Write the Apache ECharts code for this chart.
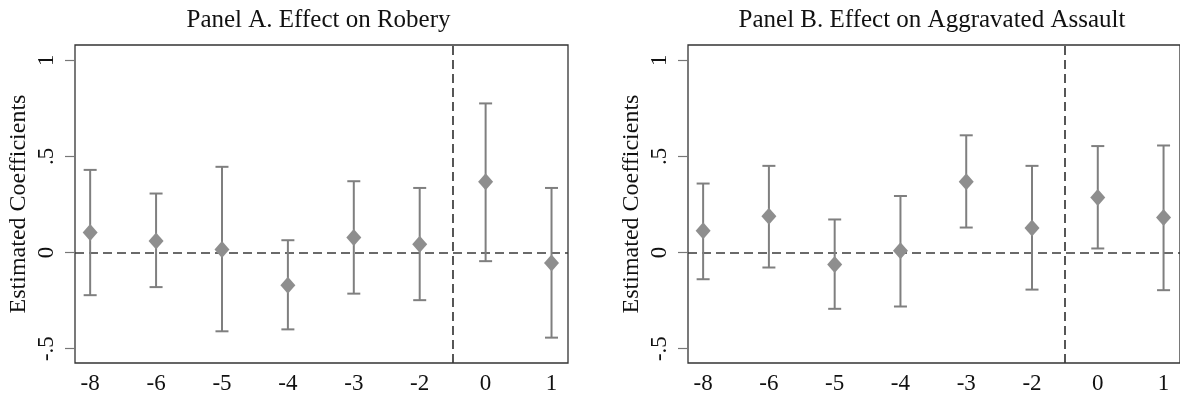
<!DOCTYPE html>
<html>
<head>
<meta charset="utf-8">
<title>Event-study coefficients</title>
<script src="https://cdn.jsdelivr.net/npm/echarts@6/dist/echarts.min.js"></script>
<style>
  html, body { margin: 0; padding: 0; background: #fff; }
  #chart { width: 1180px; height: 401px; }
</style>
</head>
<body>
<div id="chart"></div>
<script>
// Event-time periods (relative to treatment) shown on the horizontal axis
const periods = ['-8', '-6', '-5', '-4', '-3', '-2', '0', '1'];

// Panel A: robbery — point estimates and 95% confidence bounds
const robberyCoef = [0.104, 0.060, 0.016, -0.170, 0.078, 0.043, 0.368, -0.054];
const robberyLow  = [-0.222, -0.180, -0.410, -0.400, -0.214, -0.248, -0.045, -0.443];
const robberyHigh = [0.430, 0.307, 0.446, 0.064, 0.371, 0.336, 0.776, 0.336];

// Panel B: aggravated assault — point estimates and 95% confidence bounds
const assaultCoef = [0.113, 0.189, -0.062, 0.009, 0.368, 0.128, 0.286, 0.182];
const assaultLow  = [-0.139, -0.078, -0.293, -0.281, 0.130, -0.193, 0.021, -0.196];
const assaultHigh = [0.359, 0.451, 0.172, 0.294, 0.610, 0.451, 0.554, 0.557];

// Y-axis tick values and their printed labels
const yTickValues = [-0.5, 0, 0.5, 1];
const yTickLabels = ['-.5', '0', '.5', '1'];

const panelTitles = ['Panel A. Effect on Robery', 'Panel B. Effect on Aggravated Assault'];
const yAxisTitle = 'Estimated Coefficients';
const treatmentBreak = 6.5; // between period -2 and period 0

const FONT = '"Liberation Serif", "DejaVu Serif", serif';
const BAR_COLOR = '#7f7f7f';
const MARK_COLOR = '#8e8e8e';
const REF_COLOR = '#3a3a3a';

const positions = periods.map((_, i) => i + 1);

function errorBarItem(params, api) {
  const x = api.value(0);
  const top = api.coord([x, api.value(2)]);
  const bot = api.coord([x, api.value(1)]);
  const half = 6.5;
  const style = { stroke: BAR_COLOR, lineWidth: 2 };
  return {
    type: 'group',
    children: [
      { type: 'line', shape: { x1: top[0], y1: top[1], x2: bot[0], y2: bot[1] }, style },
      { type: 'line', shape: { x1: top[0] - half, y1: top[1], x2: top[0] + half, y2: top[1] }, style },
      { type: 'line', shape: { x1: bot[0] - half, y1: bot[1], x2: bot[0] + half, y2: bot[1] }, style }
    ]
  };
}

const grids = [
  { left: 75, top: 45, width: 493, height: 318 },
  { left: 688, top: 45, width: 494, height: 318 }
];

function makeX(i) {
  return {
    type: 'value', gridIndex: i, min: 0.77, max: 8.25,
    axisLine: { show: false }, axisTick: { show: false }, splitLine: { show: false },
    axisLabel: {
      customValues: positions, margin: 9,
      fontFamily: FONT, fontSize: 23, color: '#111',
      formatter: v => periods[Math.round(v) - 1]
    }
  };
}

function makeY(i) {
  return {
    type: 'value', gridIndex: i, min: -0.575, max: 1.08,
    name: yAxisTitle, nameLocation: 'middle', nameRotate: 90, nameGap: 44,
    nameTextStyle: { fontFamily: FONT, fontSize: 24, color: '#111' },
    axisLine: { show: false }, splitLine: { show: false },
    axisTick: { show: true, customValues: yTickValues, length: 10, inside: false,
                lineStyle: { color: '#777', width: 1.2 } },
    axisLabel: {
      customValues: yTickValues, rotate: 90, margin: 17,
      fontFamily: FONT, fontSize: 23, color: '#111',
      formatter: v => yTickLabels[yTickValues.indexOf(v)]
    }
  };
}

function panelSeries(i, coef, low, high) {
  return [
    {
      type: 'custom', xAxisIndex: i, yAxisIndex: i, z: 3,
      renderItem: errorBarItem, encode: { x: 0, y: [1, 2] },
      data: positions.map((p, k) => [p, low[k], high[k]]),
      silent: true
    },
    {
      type: 'scatter', xAxisIndex: i, yAxisIndex: i, z: 4,
      symbol: 'diamond', symbolSize: [15, 17],
      itemStyle: { color: MARK_COLOR, opacity: 1 },
      data: positions.map((p, k) => [p, coef[k]]),
      markLine: {
        silent: true, symbol: 'none', z: 2,
        label: { show: false },
        lineStyle: { color: REF_COLOR, type: [9, 5], width: 1.7 },
        data: [{ yAxis: 0 }, { xAxis: treatmentBreak }]
      }
    }
  ];
}

const chart = echarts.init(document.getElementById('chart'));
chart.setOption({
  backgroundColor: '#fff',
  animation: false,
  grid: grids.map(g => Object.assign({ show: true, borderColor: '#333', borderWidth: 1.3, backgroundColor: 'transparent' }, g)),
  xAxis: [makeX(0), makeX(1)],
  yAxis: [makeY(0), makeY(1)],
  graphic: panelTitles.map((t, i) => ({
    type: 'text',
    x: grids[i].left + grids[i].width / 2 - 3,
    y: 20,
    style: { text: t, font: '25px ' + FONT, fill: '#111', align: 'center', verticalAlign: 'middle' }
  })),
  series: [
    ...panelSeries(0, robberyCoef, robberyLow, robberyHigh),
    ...panelSeries(1, assaultCoef, assaultLow, assaultHigh)
  ]
});
</script>
</body>
</html>
